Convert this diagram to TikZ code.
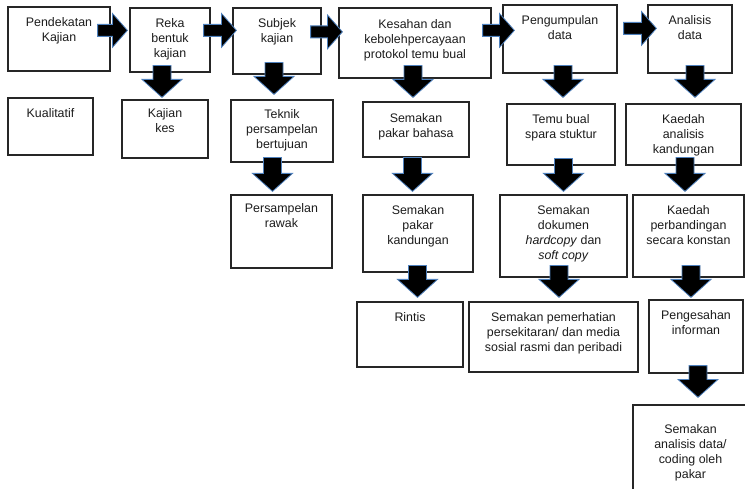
\documentclass[tikz,border=0pt]{standalone}
\usepackage{fontspec}
\setmainfont{Liberation Sans}
\usetikzlibrary{calc}

% block arrow dimensions
\newcommand\dnShaft{9pt}   % half width of a downward shaft
\newcommand\dnHead{20pt}   % half width of a downward head
\newcommand\dnLen{18pt}    % length of a downward head
\newcommand\rtShaft{6pt}   % half height of a rightward shaft
\newcommand\rtHead{17pt}   % half height of a rightward head
\newcommand\rtLen{15pt}    % length of a rightward head

\definecolor{glow}{RGB}{79,129,189}
\definecolor{ink}{RGB}{28,28,28}
\definecolor{frame}{RGB}{38,38,38}

\tikzset{
  stepframe/.style={draw=frame, line width=1.2pt, fill=white, inner sep=0pt, rectangle},
  steptext/.style={text=ink, align=center, inner sep=0pt, anchor=north,
                   font=\fontsize{12.4}{15}\selectfont,
                   execute at begin node=\strut},
  blockarrow/.style={fill=black, draw=glow, line width=0.8pt, line join=miter},
}

% #1 name, #2..#5 corners x1 y1 x2 y2, #6 depth of the first baseline, #7 text
% (the strut puts the top of the text 10.5pt above its first baseline)
\newcommand\stepbox[7]{%
  \node[stepframe, minimum width={(#4-#2)*1pt}, minimum height={(#5-#3)*1pt}]
       (#1) at ({(#2+#4)/2},{(#3+#5)/2}) {};
  \node[steptext] (#1-t) at ([yshift={-(#6-10.5)*1pt}]#1.north) {#7};
}

% downward block arrow: tail (#1) and tip (#2); the tip fixes x
\newcommand\downblock[2]{%
  \path[blockarrow] let \p1=(#1), \p2=(#2) in
    (\x2-\dnShaft,\y1) -- (\x2-\dnShaft,\y2+\dnLen) -- (\x2-\dnHead,\y2+\dnLen)
    -- (\x2,\y2) -- (\x2+\dnHead,\y2+\dnLen) -- (\x2+\dnShaft,\y2+\dnLen)
    -- (\x2+\dnShaft,\y1) -- cycle;}

% rightward block arrow: tail (#1) fixes y, tip (#2) fixes x
\newcommand\rightblock[2]{%
  \path[blockarrow] let \p1=(#1), \p2=(#2) in
    (\x1,\y1+\rtShaft) -- (\x2-\rtLen,\y1+\rtShaft) -- (\x2-\rtLen,\y1+\rtHead)
    -- (\x2,\y1) -- (\x2-\rtLen,\y1-\rtHead) -- (\x2-\rtLen,\y1-\rtShaft)
    -- (\x1,\y1-\rtShaft) -- cycle;}

\begin{document}
\begin{tikzpicture}[x=1pt,y=-1pt]
\useasboundingbox (0,0) rectangle (745,489);
\clip (0,0) rectangle (745,489);

% top row: the stages
\stepbox{pk}{8}{7}{110}{71}{21}{Pendekatan\\Kajian}
\stepbox{rb}{130}{8}{210}{72}{21}{Reka\\bentuk\\kajian}
\stepbox{sk}{233}{8}{321}{74}{21}{Subjek\\kajian}
\stepbox{kk}{339}{8}{491}{78}{22}{Kesahan dan\\kebolehpercayaan\\protokol temu bual}
\stepbox{pd}{503}{5}{617}{73}{21}{Pengumpulan\\data}
\stepbox{ad}{648}{5}{732}{73}{21}{Analisis\\data}

% second row
\stepbox{ku}{8}{98}{93}{155}{20}{Kualitatif}
\stepbox{ks}{122}{100}{208}{158}{19}{Kajian\\kes}
\stepbox{tp}{231}{100}{333}{162}{20}{Teknik\\persampelan\\bertujuan}
\stepbox{spb}{363}{102}{469}{157}{22}{Semakan\\pakar bahasa}
\stepbox{tb}{507}{104}{615}{165}{21}{Temu bual\\spara stuktur}
\stepbox{kak}{626}{104}{741}{165}{21}{Kaedah\\analisis\\kandungan}

% third row
\stepbox{pr}{231}{195}{332}{268}{19}{Persampelan\\rawak}
\stepbox{spk}{363}{195}{473}{272}{21}{Semakan\\pakar\\kandungan}
\stepbox{sd}{500}{195}{627}{277}{21}{Semakan\\dokumen\\\textit{hardcopy} dan\\\textit{soft copy}}
\stepbox{kpk}{633}{195}{744}{277}{21}{Kaedah\\perbandingan\\secara konstan}

% fourth row
\stepbox{ri}{357}{302}{463}{367}{20}{Rintis}
\stepbox{sp}{469}{302}{638}{372}{21}{Semakan pemerhatian\\persekitaran/ dan media\\sosial rasmi dan peribadi}
\stepbox{pi}{649}{300}{743}{373}{21}{Pengesahan\\informan}

% fifth row
\stepbox{sa}{633}{405}{748}{500}{30}{Semakan\\analisis data/\\coding oleh\\pakar}

% arrows along the top row
\rightblock{$(pk.north east)+(-13,24)$}{$(rb.north west)+(-2,0)$}
\rightblock{$(rb.north east)+(-7,23)$}{$(sk.north west)+(4,0)$}
\rightblock{$(sk.north east)+(-11,24.5)$}{$(kk.north west)+(4,0)$}
\rightblock{$(kk.north east)+(-9,23)$}{$(pd.north west)+(12,0)$}
\rightblock{$(pd.north east)+(6,24)$}{$(ad.north west)+(9,0)$}

% arrows down each column
\downblock{$(rb.south)+(0,-7)$}{$(ks.north)+(-3,-2)$}
\downblock{$(sk.south)+(0,-12)$}{$(tp.north)+(-8,-5)$}
\downblock{$(tp.south)+(0,-5)$}{$(pr.north)+(-9,-3)$}
\downblock{$(kk.south)+(0,-13)$}{$(spb.north)+(-3,-4)$}
\downblock{$(pd.south)+(0,-8)$}{$(tb.north)+(2,-6)$}
\downblock{$(ad.south)+(0,-8)$}{$(kak.north)+(11.5,-6)$}
\downblock{$(spb.south)+(0,0)$}{$(spk.north)+(-5.5,-3)$}
\downblock{$(tb.south)+(0,-7)$}{$(sd.north)+(0,-3)$}
\downblock{$(kak.south)+(0,-8)$}{$(kpk.north)+(-3.5,-3)$}
\downblock{$(spk.south)+(0,-7)$}{$(ri.north)+(7.5,-4)$}
\downblock{$(sd.south)+(0,-12)$}{$(sp.north)+(5.5,-4)$}
\downblock{$(kpk.south)+(0,-12)$}{$(pi.north)+(-5,-2)$}
\downblock{$(pi.south)+(0,-8)$}{$(sa.north)+(7.5,-7)$}
\end{tikzpicture}
\end{document}
